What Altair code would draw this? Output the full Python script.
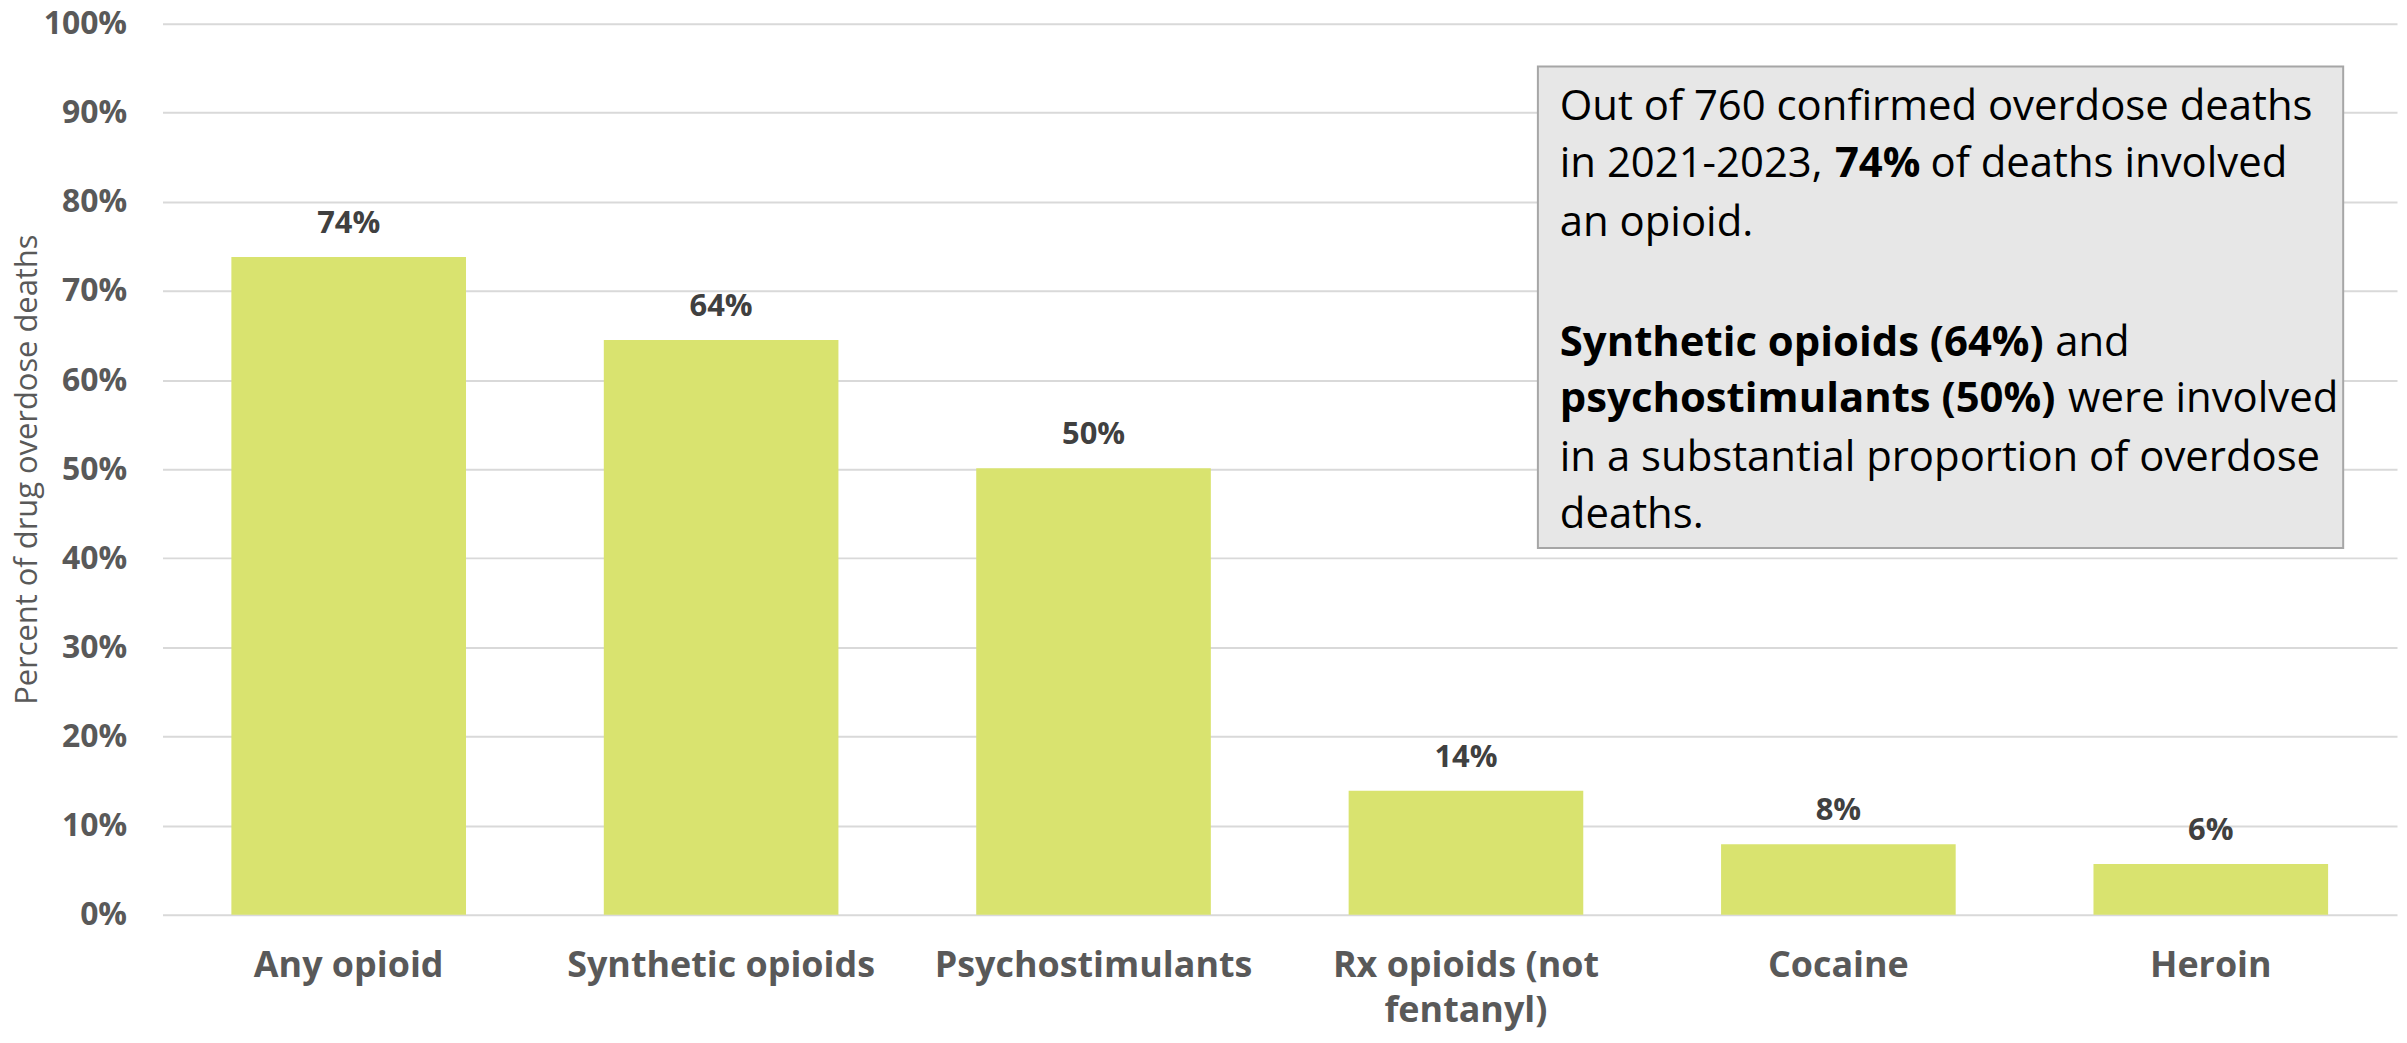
import altair as alt
import pandas as pd

categories = ["Any opioid", "Synthetic opioids", "Psychostimulants",
              "Rx opioids (not fentanyl)", "Cocaine", "Heroin"]
values = [73.8, 64.5, 50.1, 13.9, 7.9, 5.7]
labels = ["74%", "64%", "50%", "14%", "8%", "6%"]
y_ticks = [0, 10, 20, 30, 40, 50, 60, 70, 80, 90, 100]

# annotation text: one row per segment (text, bold?)
note_lines = [
    [("Out of 760 confirmed overdose deaths", False)],
    [("in 2021-2023,", False), ("74%", True), ("of deaths involved", False)],
    [("an opioid.", False)],
    [("Synthetic opioids (64%)", True), ("and", False)],
    [("psychostimulants (50%)", True), ("were involved", False)],
    [("in a substantial proportion of overdose", False)],
    [("deaths.", False)],
]
# pixel placement of annotation lines (baselines) / segments (layout only)
line_y = [97, 154, 213, 333, 390, 449, 506]
seg_x = [[1402], [1402, 1678, 1774], [1402], [1402, 1899], [1402, 1912], [1402], [1402]]

FONT = "Open Sans"
W, H = 2242, 894

df = pd.DataFrame({"cat": categories, "val": values, "lab": labels})

x_enc = alt.X("cat:N", sort=categories, title=None,
              scale=alt.Scale(paddingInner=0.37, paddingOuter=0.185),
              axis=alt.Axis(labelAngle=0, ticks=False, domain=False,
                            labelFont=FONT, labelFontSize=36, labelFontWeight="bold",
                            labelColor="#595959", labelPadding=34, labelLineHeight=45,
                            labelLimit=600,
                            labelExpr="datum.label == 'Rx opioids (not fentanyl)' ? ['Rx opioids (not', 'fentanyl)'] : datum.label"))
y_enc = alt.Y("val:Q", title="Percent of drug overdose deaths",
              scale=alt.Scale(domain=[0, 100], nice=False),
              axis=alt.Axis(values=y_ticks, labelExpr="datum.value + '%'",
                            ticks=False, domain=False, grid=True,
                            gridColor="#D9D9D9", gridWidth=2,
                            labelFont=FONT, labelFontSize=32, labelFontWeight="bold",
                            labelColor="#595959", labelPadding=36,
                            titleFont=FONT, titleFontSize=31, titleFontWeight="normal",
                            titleColor="#595959", titleX=-135, titleBaseline="middle"))

bars = alt.Chart(df).mark_bar(color="#D9E36F").encode(x=x_enc, y=y_enc)
texts = alt.Chart(df).mark_text(font=FONT, fontSize=31, fontWeight="bold",
                                color="#404040", baseline="middle", dy=-33).encode(
    x=alt.X("cat:N", sort=categories), y="val:Q", text="lab:N")

box = alt.Chart(pd.DataFrame({"a": [0]})).mark_rect(
    fill="#E7E7E7", stroke="#A6A6A6", strokeWidth=2).encode(
    x=alt.value(1380), x2=alt.value(2188), y=alt.value(43), y2=alt.value(526))

layers = [bars, texts, box]
for segs, ypx, xs in zip(note_lines, line_y, seg_x):
    for (txt, bold), xpx in zip(segs, xs):
        layers.append(
            alt.Chart(pd.DataFrame({"t": [txt]})).mark_text(
                font=FONT, fontSize=42, fontWeight="bold" if bold else "normal",
                color="#000000", align="left", baseline="alphabetic").encode(
                x=alt.value(xpx), y=alt.value(ypx), text="t:N"))

chart = alt.layer(*layers).properties(
    width=W, height=H,
    autosize=alt.AutoSizeParams(type="none"),
    padding={"left": 155, "top": 14, "right": 2, "bottom": 119},
).configure_view(stroke=None)

chart.save("out.html", embed_options={"renderer": "svg", "actions": False})
